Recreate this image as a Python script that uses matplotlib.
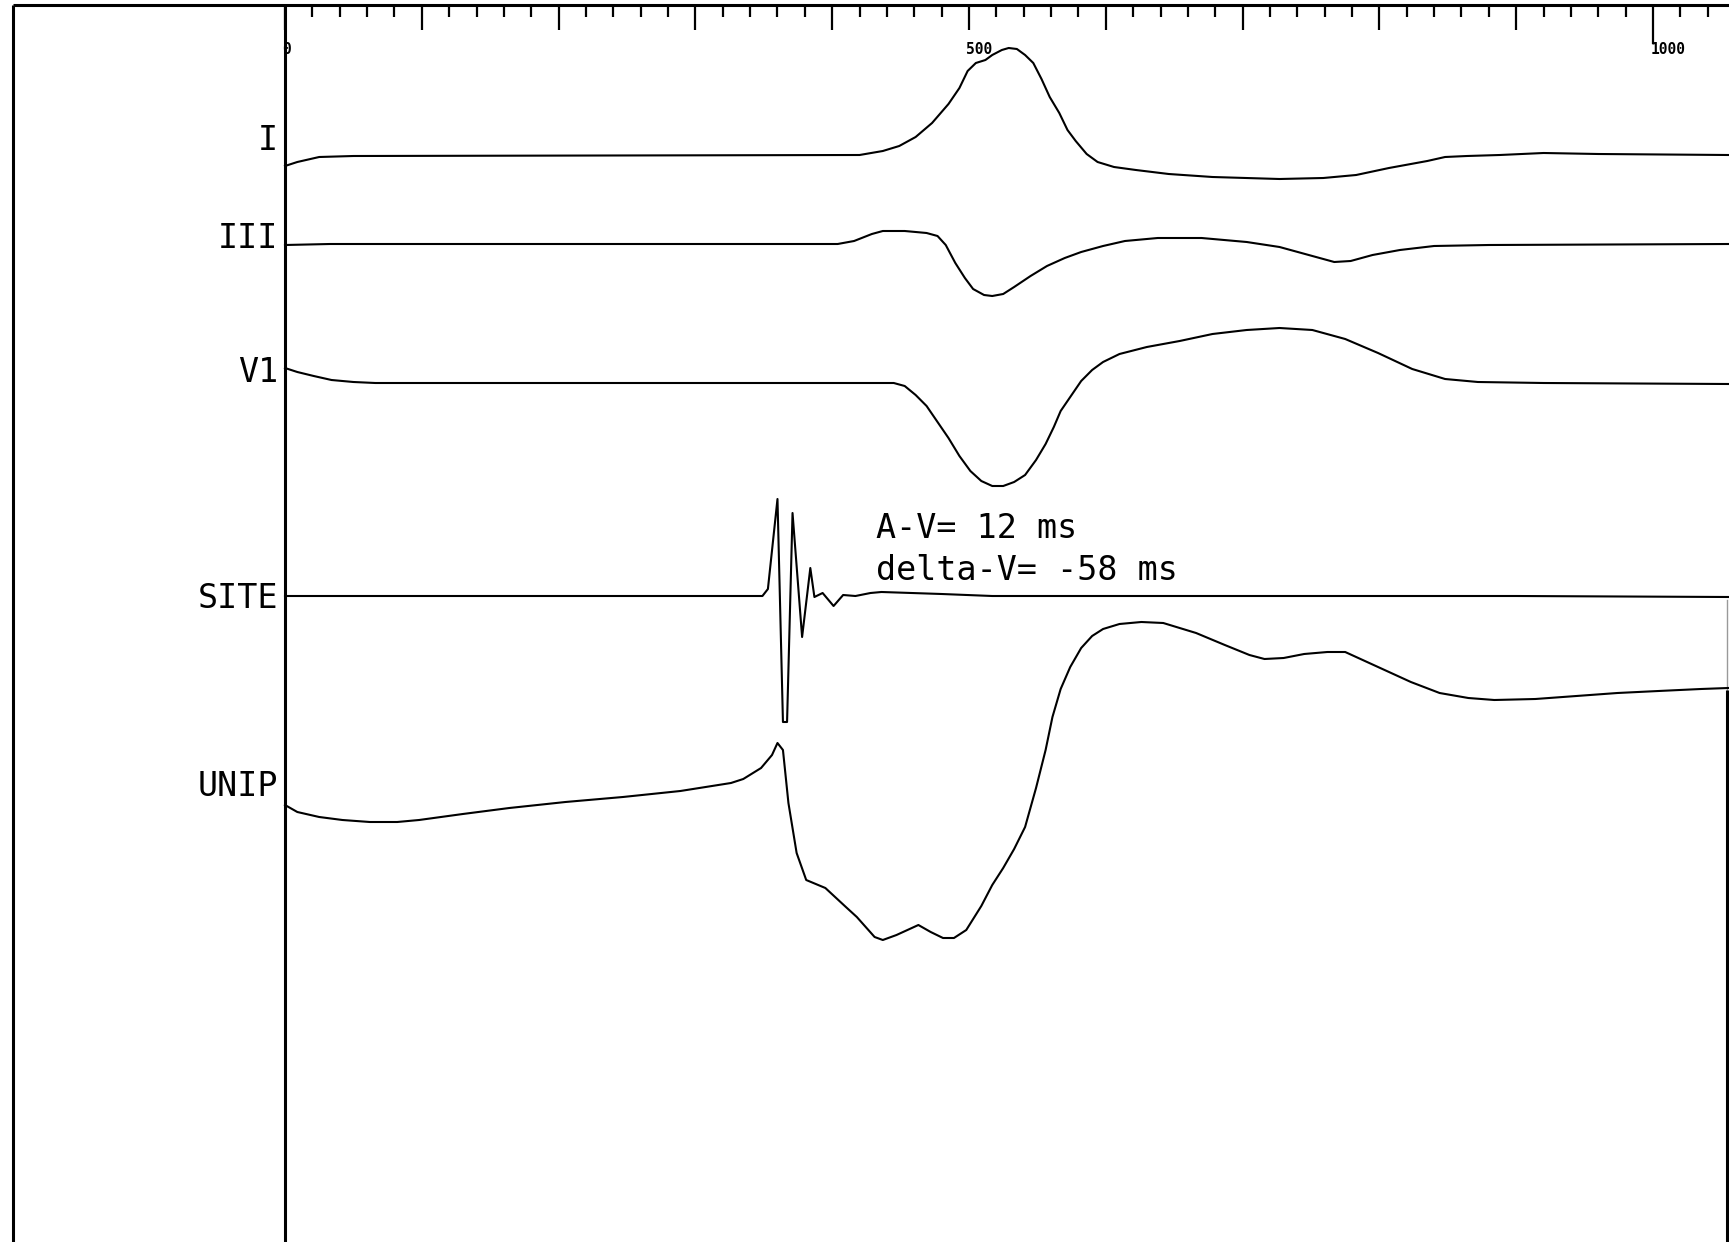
import numpy as np
import matplotlib
matplotlib.use("Agg")
import matplotlib.pyplot as plt

# time axis of the recording, ms
t_max = 1055
tick_minor = np.arange(0, t_max, 20)
tick_labels = {0: "0", 500: "500", 1000: "1000"}

# channel names
channels = ["I", "III", "V1", "SITE", "UNIP"]

# traces: (time ms, amplitude in arbitrary units, up = positive)
lead_I_t = [0, 9, 25, 50, 420, 437, 449, 461, 473, 485, 493, 499, 505, 512, 517,
            524, 529, 535, 541, 547, 553, 559, 566, 572, 578, 586, 594, 606, 622,
            646, 678, 727, 759, 783, 807, 823, 835, 848, 864, 888, 920, 960, 1055]
lead_I_v = [-11, -7, -2, -1, 0, 4, 9, 18, 32, 51, 67, 84, 92, 95, 100,
            105, 107, 106, 100, 92, 76, 58, 42, 25, 14, 1, -7, -12, -15,
            -19, -22, -24, -23, -20, -13, -9, -6, -2, -1, 0, 2, 1, 0]

lead_III_t = [0, 33, 404, 416, 429, 437, 453, 469, 477, 483, 490, 497, 503, 511,
              517, 525, 533, 545, 557, 570, 582, 598, 614, 638, 670, 703, 727,
              751, 767, 779, 795, 815, 840, 880, 1055]
lead_III_v = [-1, 0, 0, 3, 10, 13, 13, 11, 8, -1, -19, -34, -45, -51,
              -52, -50, -43, -32, -22, -14, -8, -2, 3, 6, 6, 2, -3,
              -12, -18, -17, -11, -6, -2, -1, 0]

lead_V1_t = [0, 9, 21, 34, 50, 66, 445, 453, 461, 469, 477, 485, 493, 501, 509,
             517, 525, 533, 541, 549, 556, 562, 567, 574, 582, 590, 598, 610,
             630, 654, 678, 703, 727, 751, 775, 799, 824, 848, 872, 920, 1055]
lead_V1_v = [15, 11, 7, 3, 1, 0, 0, -3, -12, -23, -39, -55, -73, -88, -98,
             -103, -103, -99, -92, -77, -61, -44, -28, -14, 2, 13, 21, 29,
             36, 42, 49, 53, 55, 53, 44, 30, 14, 4, 1, 0, -1]

site_t = [0, 120, 250, 349, 353, 360, 364, 367, 371, 378, 384, 387, 393, 401, 408,
          417, 428, 436, 480, 517, 700, 900, 1055]
site_v = [0, 0, 0, 0, 7, 97, -126, -126, 83, -41, 28, -1, 3, -10, 1,
          0, 3, 4, 2, 0, 0, 0, -1]

unip_t = [0, 9, 25, 42, 62, 82, 98, 114, 130, 164, 205, 247, 289, 326, 335, 348,
          356, 360, 364, 368, 374, 381, 395, 410, 418, 431, 437, 447, 463, 472,
          481, 489, 498, 509, 517, 525, 533, 541, 549, 556, 561, 567, 574, 582,
          590, 598, 610, 626, 642, 666, 687, 705, 716, 730, 745, 762, 775, 799, 823,
          844, 865, 884, 914, 944, 974, 1004, 1035, 1055]
unip_v = [-5, -12, -17, -20, -22, -22, -20, -17, -14, -8, -2, 3, 9, 17, 21, 32,
          45, 57, 50, -3, -53, -80, -88, -107, -117, -137, -140, -135, -125, -132,
          -138, -138, -130, -106, -85, -68, -49, -27, 12, 50, 83, 111, 133, 152,
          164, 171, 176, 178, 177, 167, 155, 145, 141, 142, 146, 148, 148, 133, 118,
          107, 102, 100, 101, 104, 107, 109, 111, 112]

traces = [(lead_I_t, lead_I_v), (lead_III_t, lead_III_v), (lead_V1_t, lead_V1_v),
          (site_t, site_v), (unip_t, unip_v)]

annotation = ["A-V= 12 ms", "delta-V= -58 ms"]

# page layout (pixels of the page, 1.368 px per ms)
W, H = 1729, 1242
x0_px, px_per_ms = 285, 1.368
baselines = [155, 244, 383, 596, 800]
label_y = [140, 239, 372, 598, 787]

fig = plt.figure(figsize=(W / 100, H / 100), dpi=100)
ax = fig.add_axes([0, 0, 1, 1])
ax.set_xlim(-x0_px / px_per_ms, (W - x0_px) / px_per_ms)
ax.set_ylim(H, 0)
ax.axis("off")


def px(x):
    return (x - x0_px) / px_per_ms


mono = "DejaVu Sans Mono"
k = dict(color="black", solid_capstyle="butt")

# frame: outer left edge, top ruler line, time-zero line, right edge
ax.plot([px(13), px(13)], [5, H], lw=2.2, **k)
ax.plot([px(13), px(W)], [5, 5], lw=2.2, **k)
ax.plot([0, 0], [5, H], lw=2.2, **k)
ax.plot([px(1727), px(1727)], [600, 690], lw=1.0, color="0.6")
ax.plot([px(1727), px(1727)], [690, H], lw=2.2, **k)

# ruler ticks along the top
for t in tick_minor:
    if t == 1000:
        length = 44
    elif t % 100 == 0:
        length = 30
    else:
        length = 17
    ax.plot([t, t], [5, length], lw=1.6, **k)
for t, lab in tick_labels.items():
    ax.text(t - 2, 49, lab, fontsize=10.5, family=mono, fontweight="bold",
            ha="left", va="center", color="black")

# traces and channel names
for (tt, vv), base, ly, name in zip(traces, baselines, label_y, channels):
    y = base - np.asarray(vv, dtype=float)
    ax.plot(tt, y, lw=1.5, color="black", solid_joinstyle="round")
    ax.text(px(278), ly, name, fontsize=24, family=mono, ha="right", va="center",
            color="black")

for i, line in enumerate(annotation):
    ax.text(px(876), 529 + 41 * i, line, fontsize=24, family=mono, ha="left",
            va="center", color="black")

fig.savefig("out.png", dpi=100, facecolor="white")
